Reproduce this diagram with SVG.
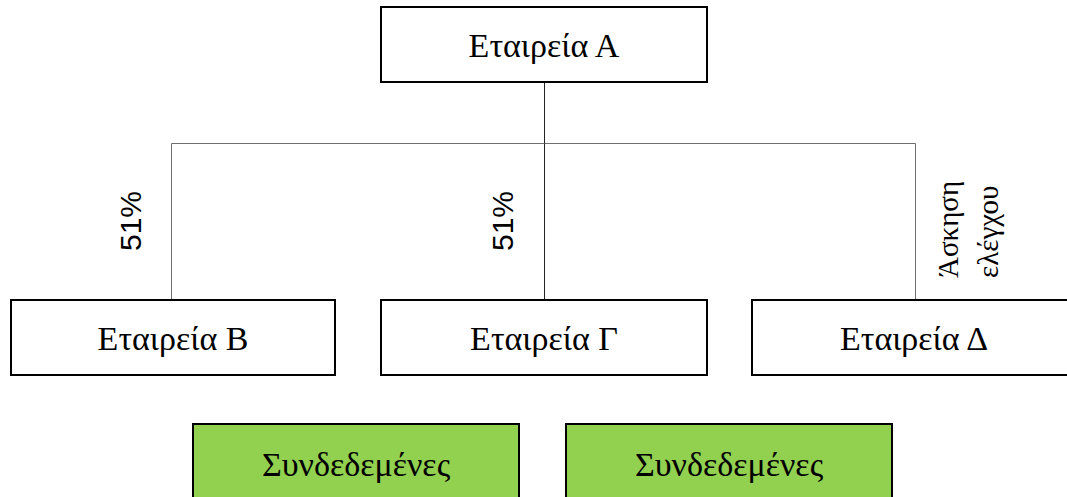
<svg xmlns="http://www.w3.org/2000/svg" width="1067" height="497" viewBox="0 0 1067 497">
  <style>
    .box { fill: #ffffff; stroke: #000000; stroke-width: 2; }
    .linked { fill: #92d050; stroke: #000000; stroke-width: 2; }
    .label { font-family: "Liberation Serif", "Times New Roman", serif; font-size: 34px; fill: #000000; text-anchor: middle; }
    .pct { font-family: "Liberation Sans", Arial, sans-serif; font-size: 30px; fill: #000000; text-anchor: middle; }
    .side { font-family: "Liberation Serif", "Times New Roman", serif; font-size: 29px; fill: #000000; }
    .wire { fill: none; stroke: #6e6e6e; stroke-width: 1; }
    .trunk { fill: none; stroke: #222222; stroke-width: 1; }
  </style>

  <!-- connectors -->
  <g id="connectors">
    <line class="trunk" x1="544.5" y1="82" x2="544.5" y2="143.5"/>
    <polyline class="wire" points="171.5,300 171.5,143.5 915.5,143.5 915.5,300"/>
    <line class="trunk" x1="544.5" y1="143.5" x2="544.5" y2="300"/>
  </g>

  <!-- ownership labels -->
  <g id="labels">
    <text class="pct" transform="translate(141,221) rotate(-90)">51%</text>
    <text class="pct" transform="translate(513,221) rotate(-90)">51%</text>
    <text class="side" transform="translate(958,278) rotate(-90)">Άσκηση</text>
    <text class="side" transform="translate(998,278) rotate(-90)">ελέγχου</text>
  </g>

  <g id="company-a">
    <rect class="box" x="381" y="7" width="326" height="75"/>
    <text class="label" x="544" y="57">Εταιρεία Α</text>
  </g>

  <g id="company-b">
    <rect class="box" x="11" y="300" width="324" height="75"/>
    <text class="label" x="173" y="350">Εταιρεία Β</text>
  </g>

  <g id="company-g">
    <rect class="box" x="381" y="300" width="326" height="75"/>
    <text class="label" x="544" y="350">Εταιρεία Γ</text>
  </g>

  <g id="company-d">
    <rect class="box" x="752" y="300" width="326" height="75"/>
    <text class="label" x="914" y="350">Εταιρεία Δ</text>
  </g>

  <g id="linked-1">
    <rect class="linked" x="193" y="424" width="326" height="80"/>
    <text class="label" x="356" y="476">Συνδεδεμένες</text>
  </g>

  <g id="linked-2">
    <rect class="linked" x="566" y="424" width="326" height="80"/>
    <text class="label" x="729" y="476">Συνδεδεμένες</text>
  </g>
</svg>
